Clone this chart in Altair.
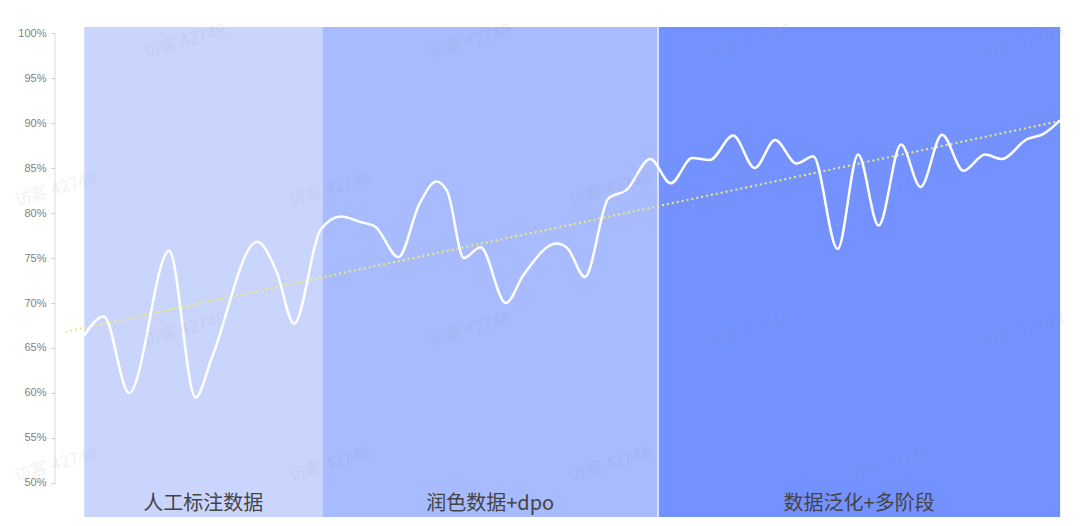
import altair as alt
import pandas as pd

# ---- data ----
t = [0, 2.0, 4.6, 8.7, 11.4, 13.1, 17.7, 19.7, 21.5, 24.2, 26.3, 28.3, 29.8, 32.2,
     34.3, 36.1, 37.2, 38.9, 40.6, 43.2, 45.0, 48.4, 49.5, 51.3, 53.7, 55.6, 58.0,
     60.1, 62.3, 64.1, 66.5, 68.7, 70.8, 73.0, 74.7, 77.2, 79.3, 81.4, 83.7, 85.7,
     87.9, 90.1, 92.3, 94.0, 96.6, 98.3, 100]
v = [66.4, 68.5, 60.0, 75.8, 59.5, 64.0, 76.8, 73.5, 67.7, 78.1, 79.6, 79.0, 78.5, 75.1,
     80.9, 83.5, 82.4, 75.0, 76.2, 70.0, 73.1, 76.6, 76.1, 72.9, 81.6, 82.6, 86.0,
     83.3, 86.1, 85.9, 88.6, 85.0, 88.1, 85.5, 86.3, 76.0, 86.5, 78.6, 87.6, 82.9,
     88.7, 84.7, 86.5, 86.0, 88.2, 88.8, 90.3]

region_start = [0, 24.4, 58.8]
region_end = [24.4, 58.8, 100]
region_label = ["人工标注数据", "润色数据+dpo", "数据泛化+多阶段"]
region_color = ["#CAD5FE", "#A8BBFE", "#7492FF"]

trend_t = [-1.95, 100.3]
trend_v = [66.8, 90.3]

y_ticks = [50, 55, 60, 65, 70, 75, 80, 85, 90, 95, 100]

wm_text = "访客 42748"
wm_t = [10.3, 39.5, 68.2, 96.2, -2.9, 25.2, 53.9, 82.6,
        10.3, 39.5, 68.2, 96.2, -2.9, 25.2, 53.9, 82.6]
wm_v = [99.0, 99.0, 99.0, 99.0, 82.6, 82.6, 82.6, 82.6,
        67.0, 67.0, 67.0, 67.0, 52.0, 52.0, 52.0, 52.0]

X_DOM = [-3, 100.5]
Y_DOM = [46.22, 100.67]
LABEL_V = 47.0

# ---- tables ----
line_df = pd.DataFrame({"t": t, "v": v})
reg_df = pd.DataFrame({
    "start": region_start, "end": region_end, "label": region_label,
    "color": region_color,
})
reg_df["mid"] = (reg_df["start"] + reg_df["end"]) / 2
reg_df["lo"] = Y_DOM[0]
reg_df["hi"] = Y_DOM[1]
reg_df["lv"] = LABEL_V
trend_df = pd.DataFrame({"t": trend_t, "v": trend_v})
wm_df = pd.DataFrame({"t": wm_t, "v": wm_v, "txt": [wm_text] * len(wm_t)})
axis_df = pd.DataFrame({"t": [X_DOM[0]], "lo": [50], "hi": [100]})
sep_df = pd.DataFrame({"t": [region_end[1]], "lo": [Y_DOM[0]], "hi": [Y_DOM[1]]})

xs = alt.Scale(domain=X_DOM, nice=False, zero=False)
ys = alt.Scale(domain=Y_DOM, nice=False, zero=False)
yaxis = alt.Axis(values=y_ticks, labelExpr="datum.value + '%'", domain=False,
                 grid=False, ticks=True, tickSize=4, tickColor="#cccccc",
                 labelColor="#808080", labelFont="Liberation Sans",
                 labelFontSize=11, labelPadding=5, title=None)


def X(f):
    return alt.X(f, type="quantitative", scale=xs, axis=None)


def Y(f):
    return alt.Y(f, type="quantitative", scale=ys, axis=yaxis)


rects = alt.Chart(reg_df).mark_rect().encode(
    x=X("start"), x2="end", y=Y("lo"), y2="hi",
    color=alt.Color("color:N", scale=None),
)

sep = alt.Chart(sep_df).mark_rule(color="white", strokeWidth=1.5, opacity=0.85).encode(
    x=X("t"), y=Y("lo"), y2="hi"
)

axis_line = alt.Chart(axis_df).mark_rule(color="#dddddd", strokeWidth=1).encode(
    x=X("t"), y=Y("lo"), y2="hi"
)

labels = alt.Chart(reg_df).mark_text(
    font="Noto Sans CJK SC", fontSize=20, color="#444444",
    baseline="alphabetic", align="center",
).encode(x=X("mid"), y=Y("lv"), text="label:N")

trend = alt.Chart(trend_df).mark_line(
    color="#eeec6e", strokeDash=[2, 3], strokeWidth=2
).encode(x=X("t"), y=Y("v"))

curve = alt.Chart(line_df).mark_line(
    interpolate="monotone", color="white", strokeWidth=2.5
).encode(x=X("t"), y=Y("v"))

wm = alt.Chart(wm_df).mark_text(
    font="Noto Sans CJK SC", fontSize=17, color="#888888", opacity=0.1,
    angle=344, align="center", baseline="middle",
).encode(x=X("t"), y=Y("v"), text="txt:N")

chart = alt.layer(rects, sep, axis_line, labels, trend, curve, wm).properties(
    width=1010, height=490,
    padding={"left": 47, "top": 19, "right": 7, "bottom": 0},
    autosize=alt.AutoSizeParams(type="none"),
).configure_view(stroke=None)

chart.save("out.html", embed_options={"renderer": "svg", "actions": False})
